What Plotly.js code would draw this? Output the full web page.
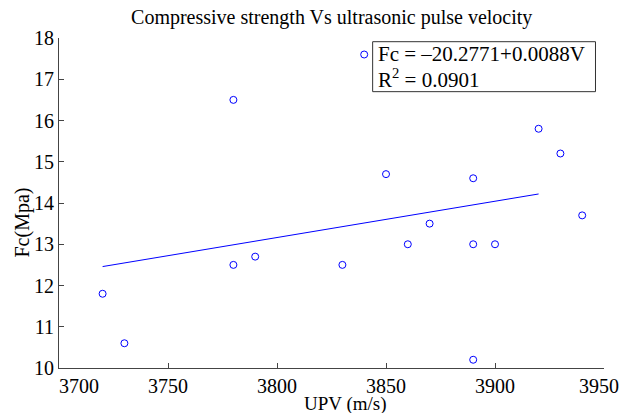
<!DOCTYPE html>
<html>
<head>
<meta charset="utf-8">
<script src="https://cdn.plot.ly/plotly-3.0.1.min.js"></script>
<style>html,body{margin:0;padding:0;background:#fff;}#chart{width:620px;height:413px;}</style>
</head>
<body>
<div id="chart"></div>
<script>
// Measured data: ultrasonic pulse velocity (m/s) vs compressive strength (MPa)
const upv = [3720, 3730, 3780, 3780, 3790, 3830, 3840, 3850, 3860, 3870, 3890, 3890, 3890, 3900, 3920, 3930, 3940];
const fc  = [11.8, 10.6, 16.5, 12.5, 12.7, 12.5, 17.6, 14.7, 13.0, 13.5, 14.6, 13.0, 10.2, 13.0, 15.8, 15.2, 13.7];

// Linear fit shown on chart
const fitIntercept = -20.2771;
const fitSlope = 0.0088;
const fitR2 = 0.0901;
const fitRange = [3720, 3920];
const fitY = fitRange.map(v => fitIntercept + fitSlope * v);

const xTicks = [3700, 3750, 3800, 3850, 3900, 3950];
const xTickLabels = ['3700', '3750', '3800', '3850', '3900', '3950'];
const yTicks = [10, 11, 12, 13, 14, 15, 16, 17, 18];
const yTickLabels = ['10', '11', '12', '13', '14', '15', '16', '17', '18'];

const font = 'Liberation Serif, Times New Roman, serif';
const blue = 'rgb(0,0,255)';
const nb = n => '\u00a0'.repeat(n);

// first x label pushed right (clears the "10"), last one kept inside the page, as in the original
const xText = xTickLabels.map((t, i) => i === 0 ? nb(8) + t : (i === xTickLabels.length - 1 ? t + nb(2) : t));

const traces = [
  {
    x: upv, y: fc, type: 'scatter', mode: 'markers',
    marker: {symbol: 'circle-open', size: 7, color: blue, line: {width: 1, color: blue}},
    showlegend: false, hoverinfo: 'x+y'
  },
  {
    x: fitRange, y: fitY, type: 'scatter', mode: 'lines',
    line: {color: blue, width: 1}, showlegend: false
  }
];

const txt = {family: font, size: 20, color: '#000'};
const eqFont = {family: font, size: 21, color: '#000'};

const layout = {
  width: 620, height: 413,
  margin: {l: 59, r: 16, t: 38, b: 45},
  paper_bgcolor: '#fff', plot_bgcolor: '#fff',
  font: txt,
  title: {text: 'Compressive strength Vs ultrasonic pulse velocity', font: txt, x: 0.535, xanchor: 'center', y: 0.96, yanchor: 'middle'},
  xaxis: {
    range: [3700, 3950], tickvals: xTicks, ticktext: xText,
    showgrid: false, zeroline: false, showline: true, linecolor: '#444', linewidth: 1,
    ticks: 'inside', ticklen: 5, tickcolor: '#444', tickfont: txt,
    ticklabeloverflow: 'allow', mirror: false
  },
  yaxis: {
    range: [10, 18], tickvals: yTicks, ticktext: yTickLabels,
    showgrid: false, zeroline: false, showline: true, linecolor: '#444', linewidth: 1,
    ticks: 'inside', ticklen: 5, tickcolor: '#444', tickfont: txt,
    ticklabeloverflow: 'allow', mirror: false
  },
  shapes: [{
    type: 'rect', xref: 'paper', yref: 'paper',
    x0: 0.5755, x1: 0.9844, y0: 0.8374, y1: 0.9888,
    line: {color: '#333', width: 1}, fillcolor: 'rgba(255,255,255,0)', layer: 'above'
  }],
  annotations: [
    {
      xref: 'paper', yref: 'paper', x: 0.526, y: -0.109, xanchor: 'center', yanchor: 'middle',
      text: 'UPV (m/s)', showarrow: false, font: {family: font, size: 19, color: '#000'}
    },
    {
      xref: 'paper', yref: 'paper', x: -0.0666, y: 0.44, xanchor: 'center', yanchor: 'middle',
      text: 'Fc(Mpa)', textangle: -90, showarrow: false, font: txt
    },
    {
      xref: 'paper', yref: 'paper', x: 0.5809, y: 0.953, xanchor: 'left', yanchor: 'middle',
      text: 'Fc = –' + Math.abs(fitIntercept).toFixed(4) + '+' + fitSlope.toFixed(4) + 'V',
      showarrow: false, font: eqFont
    },
    {
      xref: 'paper', yref: 'paper', x: 0.5809, y: 0.876, xanchor: 'left', yanchor: 'middle',
      text: 'R<sup>2</sup> = ' + fitR2.toFixed(4),
      showarrow: false, font: eqFont
    }
  ]
};

Plotly.newPlot('chart', traces, layout, {displayModeBar: false, staticPlot: true});
</script>
</body>
</html>
